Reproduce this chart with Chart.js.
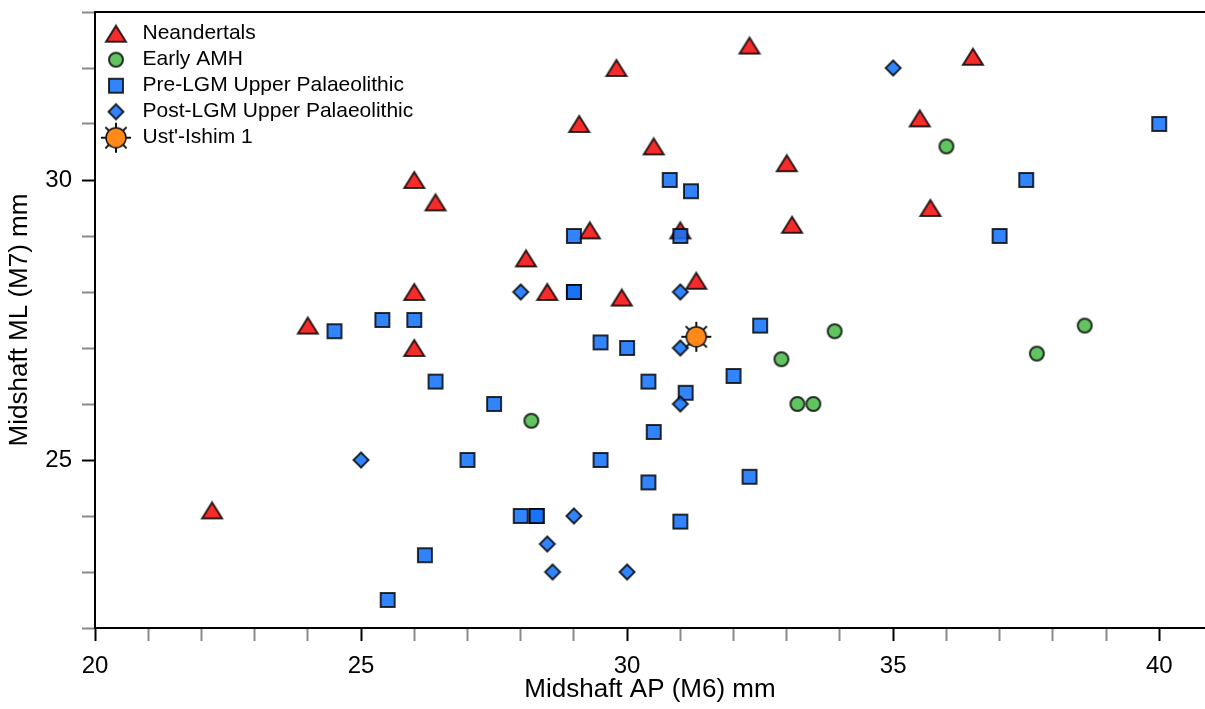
<!DOCTYPE html>
<html>
<head>
<meta charset="utf-8">
<title>Midshaft AP vs ML</title>
<script src="https://cdn.jsdelivr.net/npm/chart.js@4/dist/chart.umd.min.js"></script>
<style>
    body { margin: 0; background: #fff; }
    canvas { display: block; }
</style>
</head>
<body>
<canvas id="scatterChart" width="1205" height="709"></canvas>
<script>
// Midshaft AP (M6) and ML (M7) in mm
const neanAP = [32.3, 36.5, 29.8, 29.1, 35.5, 30.5, 33.0, 26.0, 26.4, 35.7, 33.1, 29.3, 31.0, 28.1, 28.5, 26.0, 29.9, 31.3, 24.0, 26.0, 22.2];
const neanML = [32.4, 32.2, 32.0, 31.0, 31.1, 30.6, 30.3, 30.0, 29.6, 29.5, 29.2, 29.1, 29.1, 28.6, 28.0, 28.0, 27.9, 28.2, 27.4, 27.0, 24.1];

const amhAP = [36.0, 33.9, 32.9, 33.2, 33.5, 38.6, 37.7, 28.2];
const amhML = [30.6, 27.3, 26.8, 26.0, 26.0, 27.4, 26.9, 25.7];

const preAP = [40.0, 37.5, 37.0, 30.8, 31.2, 29.0, 31.0, 29.0, 29.0, 24.5, 25.4, 26.0, 29.5, 30.0, 32.5, 32.0,
               26.4, 30.4, 31.1, 27.5, 30.5, 27.0, 29.5, 30.4, 32.3, 28.0, 28.3, 28.3, 31.0, 26.2, 25.5];
const preML = [31.0, 30.0, 29.0, 30.0, 29.8, 29.0, 29.0, 28.0, 28.0, 27.3, 27.5, 27.5, 27.1, 27.0, 27.4, 26.5,
               26.4, 26.4, 26.2, 26.0, 25.5, 25.0, 25.0, 24.6, 24.7, 24.0, 24.0, 24.0, 23.9, 23.3, 22.5];

const postAP = [35.0, 28.0, 31.0, 31.0, 31.0, 25.0, 29.0, 28.5, 28.6, 30.0];
const postML = [32.0, 28.0, 28.0, 27.0, 26.0, 25.0, 24.0, 23.5, 23.0, 23.0];

const ustAP = [31.3];
const ustML = [27.2];

const seriesNames = ['Neandertals', 'Early AMH', 'Pre-LGM Upper Palaeolithic', 'Post-LGM Upper Palaeolithic', "Ust'-Ishim 1"];

const xTitle = 'Midshaft AP (M6) mm';
const yTitle = 'Midshaft ML (M7) mm';

const EDGE = 'rgba(0, 0, 0, 0.8)';

// marker glyphs drawn once on small canvases and used as point styles
function makeIcon(shape, fill) {
    const c = document.createElement('canvas');
    c.width = 36;
    c.height = 36;
    const g = c.getContext('2d');
    const m = 18;
    g.lineWidth = 2;
    g.strokeStyle = EDGE;
    g.fillStyle = fill;
    g.beginPath();
    if (shape === 'triangle') {
        g.moveTo(m, m - 8);
        g.lineTo(m + 10, m + 8);
        g.lineTo(m - 10, m + 8);
        g.closePath();
    } else if (shape === 'circle') {
        g.arc(m, m, 7, 0, Math.PI * 2);
    } else if (shape === 'rect') {
        g.rect(m - 7, m - 7, 14, 14);
    } else if (shape === 'diamond') {
        g.moveTo(m, m - 7.5);
        g.lineTo(m + 7.5, m);
        g.lineTo(m, m + 7.5);
        g.lineTo(m - 7.5, m);
        g.closePath();
    } else if (shape === 'sun') {
        g.strokeStyle = '#111';
        for (let i = 0; i < 8; i++) {
            const a = i * Math.PI / 4;
            g.moveTo(m, m);
            g.lineTo(m + Math.cos(a) * 15, m + Math.sin(a) * 15);
        }
        g.stroke();
        g.beginPath();
        g.lineWidth = 1.5;
        g.arc(m, m, 10, 0, Math.PI * 2);
    }
    g.fill();
    g.stroke();
    return c;
}

const icons = [
    makeIcon('triangle', 'rgba(245, 20, 20, 0.9)'),
    makeIcon('circle', 'rgba(80, 190, 80, 0.9)'),
    makeIcon('rect', 'rgba(20, 115, 250, 0.88)'),
    makeIcon('diamond', 'rgba(20, 115, 250, 0.88)'),
    makeIcon('sun', '#ff8a1a')
];

function zip(xs, ys) {
    return xs.map((x, i) => ({ x: x, y: ys[i] }));
}

const seriesData = [
    zip(neanAP, neanML),
    zip(amhAP, amhML),
    zip(preAP, preML),
    zip(postAP, postML),
    zip(ustAP, ustML)
];

// later series are drawn on top
const drawOrder = [4, 3, 2, 1, 0];

const datasets = seriesNames.map((name, i) => ({
    label: name,
    data: seriesData[i],
    pointStyle: icons[i],
    pointRadius: 8,
    pointHoverRadius: 8,
    showLine: false,
    order: drawOrder[i]
}));

const isMajor = v => Math.abs(v % 5) < 1e-6;
const tickColor = ctx => (ctx.tick && isMajor(ctx.tick.value)) ? '#000' : '#8a8a8a';
const keepIntegers = scale => {
    scale.ticks = scale.ticks.filter(t => Math.abs(t.value - Math.round(t.value)) < 1e-6);
};
// no extra room for half labels at the ends, the frame is fixed
const noEndPadding = scale => {
    scale.paddingTop = 0;
    scale.paddingBottom = 0;
    scale.paddingLeft = 0;
    scale.paddingRight = 0;
};

Chart.defaults.font.family = '"Liberation Sans", Arial, Helvetica, sans-serif';
Chart.defaults.color = '#000';

new Chart(document.getElementById('scatterChart').getContext('2d'), {
    type: 'scatter',
    data: { datasets: datasets },
    options: {
        responsive: false,
        animation: false,
        layout: { padding: 0, autoPadding: false },
        plugins: {
            tooltip: { enabled: false },
            legend: {
                position: 'chartArea',
                align: 'start',
                title: { display: true, text: '', font: { size: 1 }, padding: { top: 0, bottom: 17 } },
                labels: {
                    usePointStyle: true,
                    pointStyleWidth: 32,
                    padding: 5,
                    font: { size: 21 },
                    color: '#000',
                    generateLabels: chart => seriesNames.map((name, i) => ({
                        text: name,
                        pointStyle: icons[i],
                        fillStyle: 'transparent',
                        strokeStyle: 'transparent',
                        lineWidth: 0,
                        hidden: false,
                        datasetIndex: i
                    }))
                }
            }
        },
        scales: {
            x: {
                type: 'linear',
                position: 'bottom',
                min: 20,
                max: 40.86,
                afterBuildTicks: keepIntegers,
                afterFit: scale => { noEndPadding(scale); scale.height = 81; },
                ticks: {
                    stepSize: 1,
                    includeBounds: false,
                    autoSkip: false,
                    maxRotation: 0,
                    padding: 11,
                    font: { size: 24 },
                    callback: v => isMajor(v) ? String(v) : ''
                },
                grid: {
                    drawOnChartArea: false,
                    drawTicks: true,
                    tickLength: 13,
                    tickWidth: 2,
                    tickColor: tickColor
                },
                border: { display: true, color: '#000', width: 2 },
                title: {
                    display: true,
                    text: xTitle,
                    font: { size: 26 },
                    padding: { top: 0, bottom: 3.5 }
                }
            },
            xTop: {
                type: 'linear',
                position: 'top',
                min: 20,
                max: 40.86,
                afterFit: scale => { noEndPadding(scale); scale.height = 12; },
                ticks: { display: false },
                grid: { display: false, drawTicks: false },
                border: { display: true, color: '#000', width: 2 }
            },
            y: {
                type: 'linear',
                position: 'left',
                min: 22,
                max: 33,
                afterBuildTicks: keepIntegers,
                afterFit: scale => { noEndPadding(scale); scale.width = 95; },
                ticks: {
                    stepSize: 1,
                    includeBounds: false,
                    autoSkip: false,
                    padding: 10,
                    font: { size: 24, lineHeight: 1 },
                    callback: v => isMajor(v) ? String(v) : ''
                },
                grid: {
                    drawOnChartArea: false,
                    drawTicks: true,
                    tickLength: 13,
                    tickWidth: 2,
                    tickColor: tickColor
                },
                border: { display: true, color: '#000', width: 2 },
                title: {
                    display: true,
                    text: yTitle,
                    font: { size: 26 },
                    padding: { top: 4.5, bottom: 0 }
                }
            }
        }
    }
});
</script>
</body>
</html>
